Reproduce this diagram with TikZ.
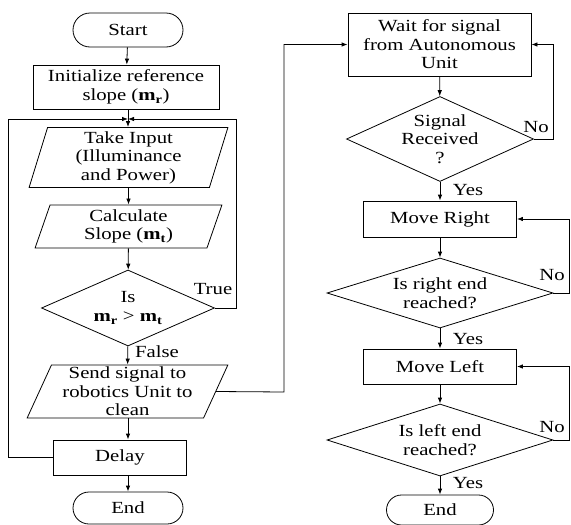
\documentclass[tikz,border=0pt]{standalone}
\usepackage{fontspec}
\setmainfont[FakeStretch=1.22]{Liberation Serif}
\usetikzlibrary{shapes.geometric,shapes.misc,arrows.meta}
\begin{document}
\begin{tikzpicture}[x=1pt,y=-1pt,
  every node/.style={font=\fontsize{17}{18.5}\selectfont},
  base/.style={draw, line width=0.8pt, align=center, inner sep=0pt},
  procbox/.style={base, rectangle},
  term/.style={base, rounded rectangle},
  iobox/.style={base, trapezium, trapezium stretches=true},
  decision/.style={base, diamond},
  arr/.style={-{Latex[length=6pt,width=4.5pt]}, line width=0.8pt},
  lbl/.style={inner sep=0pt}]
\useasboundingbox (0,0) rectangle (571,525);
% left column
\node[term, minimum width=110pt, minimum height=34pt] (start) at (128,30) {Start};
\node[procbox, minimum width=186pt, minimum height=44pt] (init) at (126,87) {Initialize reference\\slope (\textbf{m\textsubscript{r}})};
\node[iobox, trapezium left angle=77, trapezium right angle=103, minimum width=199pt, minimum height=60pt] (take) at (128.5,157.5) {Take Input\\(Illuminance\\and Power)};
\node[iobox, trapezium left angle=76, trapezium right angle=104, minimum width=187pt, minimum height=43pt] (calc) at (128.5,226.5) {Calculate\\Slope (\textbf{m\textsubscript{t}})};
\node[decision, minimum width=173pt, minimum height=76pt,
  label={[align=center, inner sep=0pt]center:Is\\\textbf{m\textsubscript{r}} > \textbf{m\textsubscript{t}}}] (dec1) at (128,308) {};
\node[iobox, trapezium left angle=67, trapezium right angle=113, minimum width=201pt, minimum height=53pt] (send) at (127.5,391.5) {Send signal to\\robotics Unit to\\clean};
\node[procbox, minimum width=133pt, minimum height=35pt] (delay) at (120,457.5) {Delay};
\node[term, minimum width=110pt, minimum height=32pt] (end1) at (128,508) {End};
% right column
\node[procbox, minimum width=183pt, minimum height=63pt] (wait) at (439.5,44.5) {Wait for signal\\from Autonomous\\Unit};
\node[decision, minimum width=187pt, minimum height=85pt,
  label={[align=center, inner sep=0pt]center:Signal\\Received\\?}] (dec2) at (440,139) {};
\node[procbox, minimum width=153pt, minimum height=36pt] (mright) at (440,219) {Move Right};
\node[decision, minimum width=226pt, minimum height=70pt,
  label={[align=center, inner sep=0pt]center:Is right end\\reached?}] (dec3) at (440,293) {};
\node[procbox, minimum width=153pt, minimum height=35pt] (mleft) at (440,366.5) {Move Left};
\node[decision, minimum width=226pt, minimum height=72pt,
  label={[align=center, inner sep=0pt]center:Is left end\\reached?}] (dec4) at (440,440) {};
\node[term, minimum width=107pt, minimum height=30pt] (end2) at (440,510) {End};
% junction
\coordinate (j) at (128,119);
% left connectors
\draw[arr] (start) -- (init);
\draw[arr] (init.south -| j) -- (take.north -| j);
\draw[arr] (take) -- (calc);
\draw[arr] (calc) -- (dec1);
\draw[arr] (dec1) -- (send);
\node[lbl] at (157,352) {False};
\draw[arr] (send.south -| j) -- (delay.north -| j);
\draw[arr] (delay.south -| j) -- (end1.north -| j);
\draw[arr] (delay.west) -- (8,457.5) |- (j);
\draw[arr] (dec1.east) -- (236,308) |- (j);
\node[lbl] at (213,289) {True};
\draw[arr] (send.east) -- (284,392) |- (wait.west);
% right connectors
\draw[arr] (wait) -- (dec2);
\draw[arr] (dec2.east) -- (553,139) |- (wait.east);
\node[lbl] at (536,127) {No};
\draw[arr] (dec2) -- (mright);
\node[lbl] at (468,190) {Yes};
\draw[arr] (mright) -- (dec3);
\draw[arr] (dec3.east) -- (569,293) |- (mright.east);
\node[lbl] at (552,275) {No};
\draw[arr] (dec3) -- (mleft);
\node[lbl] at (468,339) {Yes};
\draw[arr] (mleft) -- (dec4);
\draw[arr] (dec4.east) -- (569,440) |- (mleft.east);
\node[lbl] at (552,427) {No};
\draw[arr] (dec4) -- (end2);
\node[lbl] at (468,483) {Yes};
\end{tikzpicture}
\end{document}
